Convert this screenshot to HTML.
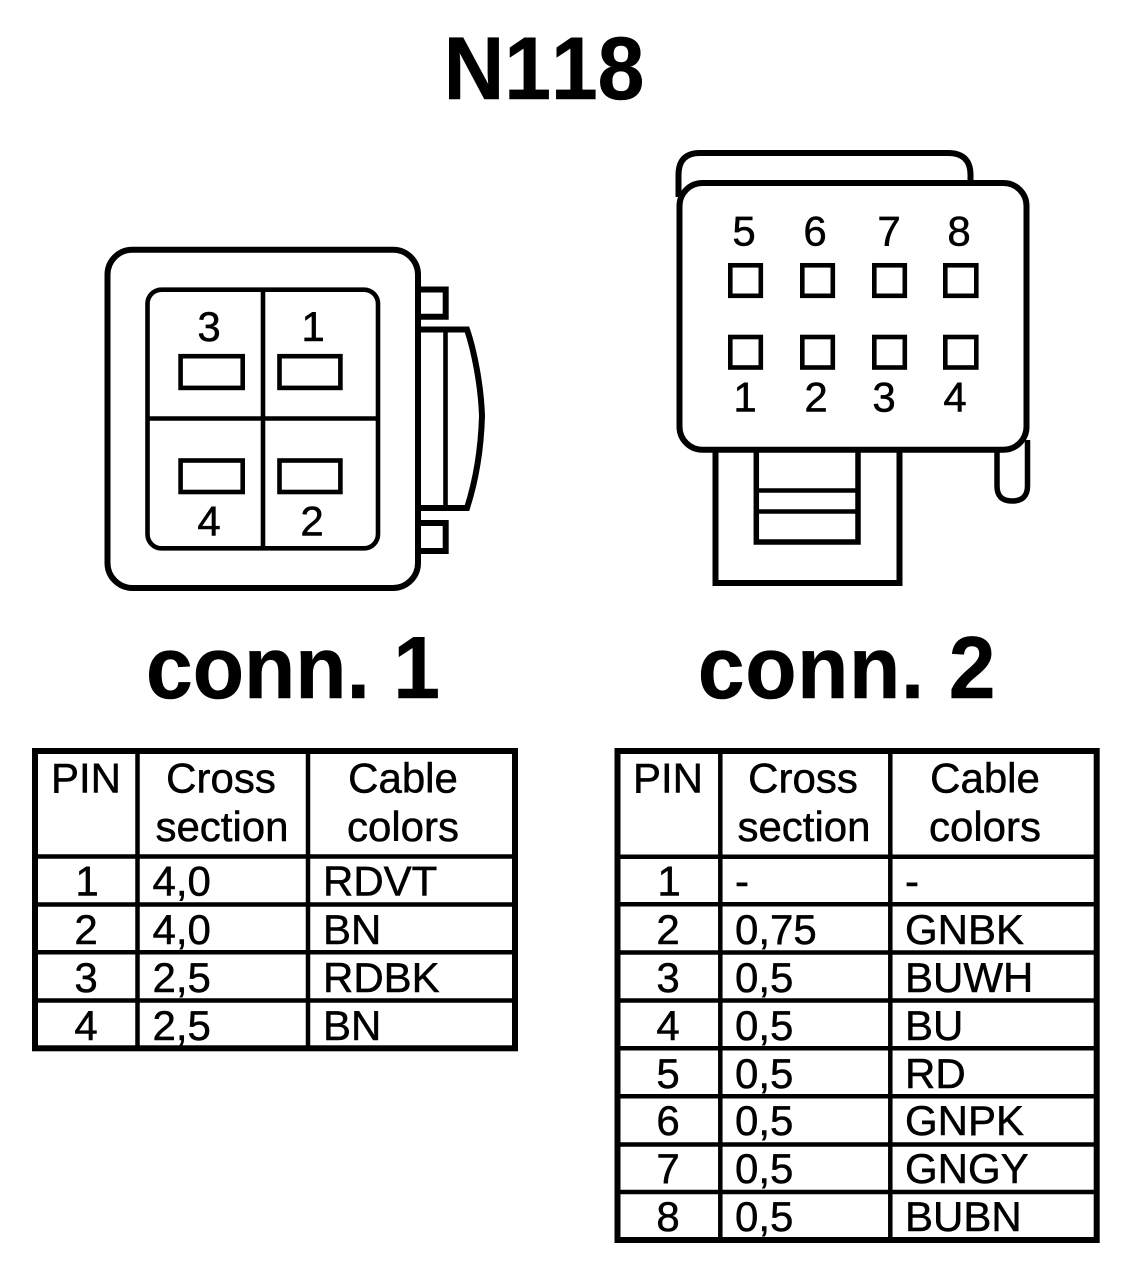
<!DOCTYPE html>
<html>
<head>
<meta charset="utf-8">
<style>
html,body{margin:0;padding:0;background:#fff}
svg{display:block}
text{font-family:"Liberation Sans",Arial,sans-serif;fill:#000;stroke:#000;stroke-width:.5}
.b{font-weight:bold}
.t{font-size:42px}
.p{font-size:42px;text-anchor:middle}
</style>
</head>
<body>
<svg width="1136" height="1268" viewBox="0 0 1136 1268" xmlns="http://www.w3.org/2000/svg">
<text transform="translate(544,98.8) scale(1,1.06)" class="b" font-size="84" text-anchor="middle" style="font-kerning:none">N118</text>

<!-- connector 1 -->
<g fill="none" stroke="#000" stroke-width="6">
<rect x="107.5" y="249.7" width="310.5" height="338.3" rx="25"/>
<path d="M418 289.5H445.7V316.7H418"/>
<path d="M418 523H445.7V551H418"/>
<path d="M418 329.5H467C474 350 481 385 482 416C481 450 476 480 467 508H418"/>
</g>
<g fill="none" stroke="#000" stroke-width="4.6">
<line x1="445.5" y1="329" x2="445.5" y2="508"/>
<rect x="147.5" y="289.7" width="230.5" height="258.6" rx="14"/>
<line x1="263" y1="290" x2="263" y2="548"/>
<line x1="147.5" y1="418.5" x2="378" y2="418.5"/>
<rect x="180.6" y="356.2" width="62.1" height="31.7"/>
<rect x="279.5" y="356.2" width="60.9" height="31.7"/>
<rect x="180.6" y="460.5" width="62.1" height="31.5"/>
<rect x="279.5" y="460.5" width="60.9" height="31.5"/>
</g>
<g font-size="42" text-anchor="middle">
<text x="209" y="341">3</text><text x="313" y="341">1</text>
<text x="209" y="535.7">4</text><text x="312" y="535.7">2</text>
</g>

<!-- connector 2 -->
<g fill="none" stroke="#000" stroke-width="6">
<path d="M678.5 197V175Q678.5 153 700 153H948Q970.5 153 970.5 175V183"/>
<rect x="679.5" y="183" width="347" height="266.7" rx="23"/>
<path d="M715.5 450V583H899.5V450"/>
<path d="M756.3 450V542H858V450" stroke-width="5.5"/>
<path d="M997 450V486Q997 501 1012 501Q1027.5 501 1027.5 486V440" stroke-width="5.5"/>
</g>
<g fill="none" stroke="#000" stroke-width="4.6">
<line x1="756" y1="490.5" x2="858" y2="490.5"/>
<line x1="756" y1="511.5" x2="858" y2="511.5"/>
<rect x="730.3" y="265.3" width="30.5" height="30.5"/><rect x="802.3" y="265.3" width="30.5" height="30.5"/>
<rect x="874.3" y="265.3" width="30.5" height="30.5"/><rect x="945.3" y="265.3" width="31" height="30.5"/>
<rect x="730.3" y="337" width="30.5" height="30.5"/><rect x="802.3" y="337" width="30.5" height="30.5"/>
<rect x="874.3" y="337" width="30.5" height="30.5"/><rect x="945.3" y="337" width="31" height="30.5"/>
</g>
<g font-size="42" text-anchor="middle">
<text x="744" y="245.5">5</text><text x="815" y="245.5">6</text><text x="889" y="245.5">7</text><text x="959" y="245.5">8</text>
<text x="745" y="411.7">1</text><text x="816" y="411.7">2</text><text x="884" y="411.7">3</text><text x="955" y="411.7">4</text>
</g>

<text transform="translate(293,698) scale(1,1.05)" class="b" font-size="84" text-anchor="middle">conn. 1</text>
<text transform="translate(847,698) scale(1,1.05)" class="b" font-size="84" text-anchor="middle" letter-spacing=".6">conn. 2</text>

<!-- table 1 -->
<rect x="35" y="751" width="480" height="297.3" fill="none" stroke="#000" stroke-width="6"/>
<g fill="none" stroke="#000" stroke-width="4.5">
<line x1="137.5" y1="751" x2="137.5" y2="1048"/>
<line x1="308" y1="751" x2="308" y2="1048"/>
<line x1="35" y1="856.5" x2="515" y2="856.5"/>
<line x1="35" y1="904.5" x2="515" y2="904.5"/>
<line x1="35" y1="952.3" x2="515" y2="952.3"/>
<line x1="35" y1="1000.5" x2="515" y2="1000.5"/>
</g>
<g class="t">
<text class="p" x="86" y="792.5">PIN</text>
<text class="p" x="221" y="792.5">Cross</text><text class="p" x="222" y="841">section</text>
<text class="p" x="403" y="792.5">Cable</text><text class="p" x="403" y="841">colors</text>
<text class="p" x="87" y="895.7">1</text><text class="p" x="86" y="944">2</text><text class="p" x="86" y="992">3</text><text class="p" x="86" y="1040">4</text>
<text class="t" x="152.5" y="895.7">4,0</text><text class="t" x="152.5" y="944">4,0</text><text class="t" x="152.5" y="992">2,5</text><text class="t" x="152.5" y="1040">2,5</text>
<text class="t" x="323" y="895.7">RDVT</text><text class="t" x="323" y="944">BN</text><text class="t" x="323" y="992">RDBK</text><text class="t" x="323" y="1040">BN</text>
</g>

<!-- table 2 -->
<rect x="617.5" y="751" width="479.2" height="489" fill="none" stroke="#000" stroke-width="6"/>
<g fill="none" stroke="#000" stroke-width="4.5">
<line x1="720.3" y1="751" x2="720.3" y2="1240"/>
<line x1="890.3" y1="751" x2="890.3" y2="1240"/>
<line x1="617" y1="856.7" x2="1097" y2="856.7"/>
<line x1="617" y1="904.2" x2="1097" y2="904.2"/>
<line x1="617" y1="952.5" x2="1097" y2="952.5"/>
<line x1="617" y1="1000.5" x2="1097" y2="1000.5"/>
<line x1="617" y1="1048.3" x2="1097" y2="1048.3"/>
<line x1="617" y1="1096.3" x2="1097" y2="1096.3"/>
<line x1="617" y1="1144.5" x2="1097" y2="1144.5"/>
<line x1="617" y1="1192" x2="1097" y2="1192"/>
</g>
<g class="t">
<text class="p" x="668" y="792.5">PIN</text>
<text class="p" x="803" y="792.5">Cross</text><text class="p" x="804" y="841">section</text>
<text class="p" x="985" y="792.5">Cable</text><text class="p" x="985" y="841">colors</text>
<text class="p" x="669" y="895.7">1</text><text class="p" x="668" y="944">2</text><text class="p" x="668" y="992">3</text><text class="p" x="668" y="1040">4</text>
<text class="p" x="668" y="1088">5</text><text class="p" x="668" y="1135">6</text><text class="p" x="668" y="1183">7</text><text class="p" x="668" y="1231">8</text>
<text class="t" x="735" y="895.7">-</text><text class="t" x="735" y="944">0,75</text><text class="t" x="735" y="992">0,5</text><text class="t" x="735" y="1040">0,5</text>
<text class="t" x="735" y="1088">0,5</text><text class="t" x="735" y="1135">0,5</text><text class="t" x="735" y="1183">0,5</text><text class="t" x="735" y="1231">0,5</text>
<text class="t" x="905" y="895.7">-</text><text class="t" x="905" y="944">GNBK</text><text class="t" x="905" y="992">BUWH</text><text class="t" x="905" y="1040">BU</text>
<text class="t" x="905" y="1088">RD</text><text class="t" x="905" y="1135">GNPK</text><text class="t" x="905" y="1183">GNGY</text><text class="t" x="905" y="1231">BUBN</text>
</g>
</svg>
</body>
</html>
